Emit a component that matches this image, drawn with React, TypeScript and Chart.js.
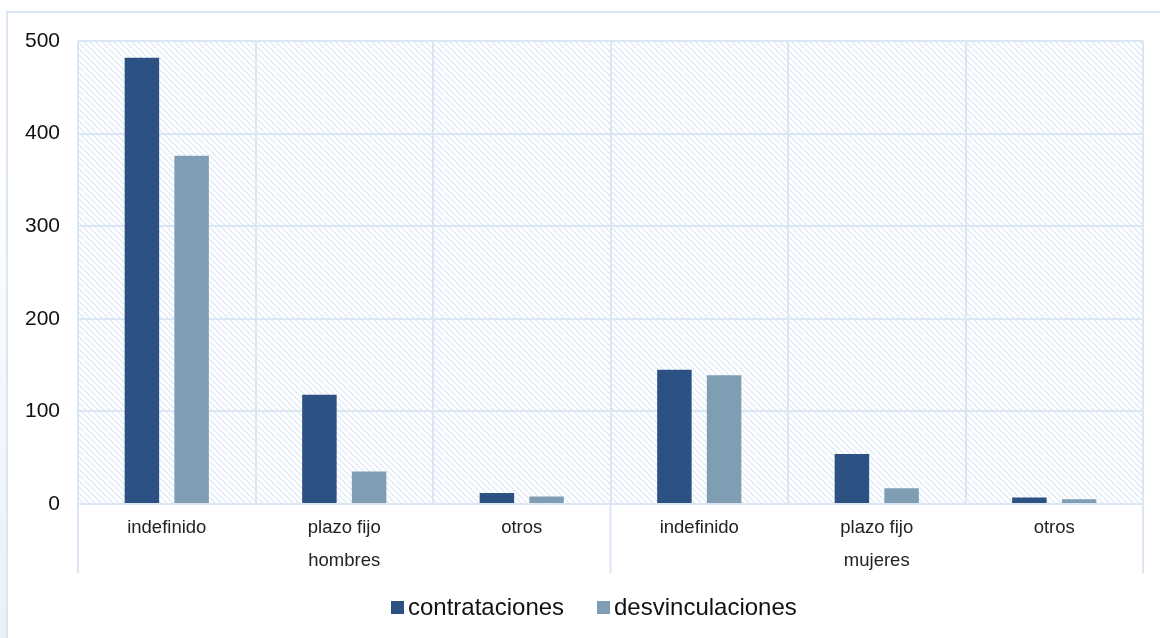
import React, { useEffect, useRef } from "react";
import { Chart, registerables } from "chart.js";

Chart.register(...registerables);

const categories = ["indefinido", "plazo fijo", "otros", "indefinido", "plazo fijo", "otros"];
const groups = ["hombres", "mujeres"];
const contrataciones = [482, 118, 12, 145, 54, 7];
const desvinculaciones = [376, 35, 8, 139, 17, 5];
const seriesNames = ["contrataciones", "desvinculaciones"];
const seriesColors = ["#2B5283", "#7F9DB3"];
const yTicks = [0, 100, 200, 300, 400, 500];

const GRID = "#DAE6F3";
const FONT = "'Liberation Sans', Arial, sans-serif";

function makeHatch(ctx: CanvasRenderingContext2D) {
  const s = 6;
  const c = document.createElement("canvas");
  c.width = s;
  c.height = s;
  const g = c.getContext("2d")!;
  g.strokeStyle = "#D9E6F5";
  g.lineWidth = 1.2;
  for (let k = -1; k <= 1; k++) {
    g.beginPath();
    g.moveTo(k * s, 0);
    g.lineTo(k * s + s, s);
    g.stroke();
  }
  return ctx.createPattern(c, "repeat");
}

const decorPlugin = {
  id: "decor",
  beforeDraw(chart: any) {
    const { ctx, chartArea, width, height } = chart;
    ctx.save();
    ctx.fillStyle = "#fff";
    ctx.fillRect(0, 0, width, height);
    const grad = ctx.createLinearGradient(0, 150, 0, height);
    grad.addColorStop(0, "rgba(234,240,246,0)");
    grad.addColorStop(1, "rgba(234,240,246,1)");
    ctx.fillStyle = grad;
    ctx.fillRect(0, 12, 7, height);
    ctx.strokeStyle = GRID;
    ctx.lineWidth = 2;
    ctx.beginPath();
    ctx.moveTo(7, height + 2);
    ctx.lineTo(7, 12);
    ctx.lineTo(width + 2, 12);
    ctx.stroke();
    const pat = makeHatch(ctx);
    if (pat) {
      ctx.fillStyle = pat;
      ctx.fillRect(chartArea.left, chartArea.top, chartArea.right - chartArea.left, chartArea.bottom - chartArea.top);
    }
    ctx.restore();
  },
  afterDraw(chart: any) {
    const { ctx, chartArea } = chart;
    const xs = chart.scales.x;
    const n = categories.length;
    const per = n / groups.length;
    ctx.save();
    ctx.strokeStyle = GRID;
    ctx.lineWidth = 2;
    const catW = (chartArea.right - chartArea.left) / n;
    for (let gi = 0; gi <= groups.length; gi++) {
      const x = chartArea.left + gi * per * catW;
      ctx.beginPath();
      ctx.moveTo(x, chartArea.bottom);
      ctx.lineTo(x, chartArea.bottom + 69);
      ctx.stroke();
    }
    ctx.fillStyle = "#222";
    ctx.font = `18.5px ${FONT}`;
    ctx.textAlign = "center";
    ctx.textBaseline = "middle";
    groups.forEach((g, gi) => {
      const a = xs.getPixelForValue(gi * per);
      const b = xs.getPixelForValue(gi * per + per - 1);
      ctx.fillText(g, (a + b) / 2, chartArea.bottom + 57);
    });
    ctx.font = `24px ${FONT}`;
    ctx.textAlign = "left";
    const lx = [391, 597];
    const ly = 607;
    seriesNames.forEach((nm, i) => {
      ctx.fillStyle = seriesColors[i];
      ctx.fillRect(lx[i], ly - 6, 13, 13);
      ctx.fillStyle = "#111";
      ctx.fillText(nm, lx[i] + 17, ly + 1);
    });
    ctx.restore();
  },
};

export default function App() {
  const ref = useRef<HTMLCanvasElement | null>(null);
  useEffect(() => {
    document.body.style.margin = "0";
    const canvas = ref.current!;
    const chart = new Chart(canvas, {
      type: "bar",
      data: {
        labels: categories,
        datasets: [
          { label: seriesNames[0], data: contrataciones, backgroundColor: seriesColors[0], categoryPercentage: 0.56, barPercentage: 0.694 },
          { label: seriesNames[1], data: desvinculaciones, backgroundColor: seriesColors[1], categoryPercentage: 0.56, barPercentage: 0.694 },
        ],
      },
      options: {
        responsive: false,
        animation: false,
        layout: { padding: { left: 0, right: 17, top: 41, bottom: 0 } },
        plugins: { legend: { display: false }, tooltip: { enabled: false } },
        scales: {
          x: {
            afterFit: (s: any) => { s.height = 134; },
            grid: { color: GRID, lineWidth: 2, drawTicks: false, offset: true },
            border: { color: GRID, width: 2 },
            ticks: { color: "#222", font: { family: FONT, size: 18.5 }, padding: 13, maxRotation: 0, autoSkip: false },
          },
          y: {
            min: 0,
            max: 500,
            afterFit: (s: any) => { s.width = 78; },
            afterBuildTicks: (s: any) => { s.ticks = yTicks.map((v) => ({ value: v })); },
            grid: { color: GRID, lineWidth: 2, drawTicks: false },
            border: { display: false },
            ticks: { color: "#111", font: { family: FONT, size: 21 }, padding: 18 },
          },
        },
      },
      plugins: [decorPlugin],
    });
    return () => chart.destroy();
  }, []);
  return (
    <div style={{ position: "absolute", left: 0, top: 0, width: 1160, height: 638 }}>
      <canvas ref={ref} width={1160} height={638} />
    </div>
  );
}
